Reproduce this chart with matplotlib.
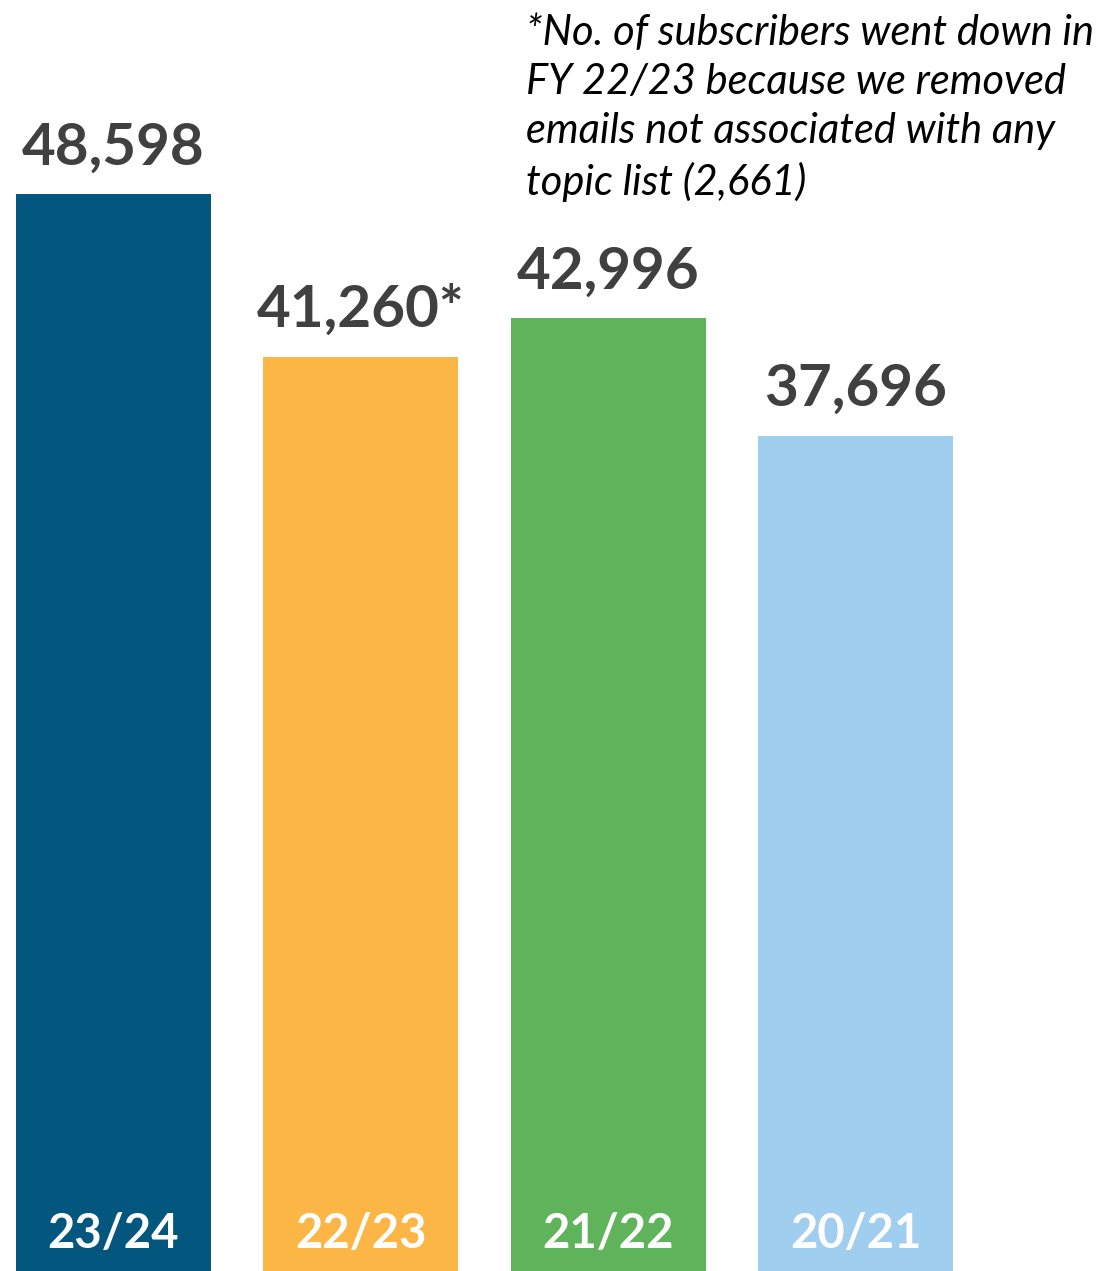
import matplotlib.pyplot as plt

# fiscal years and subscriber counts
years = ["23/24", "22/23", "21/22", "20/21"]
subscribers = [48598, 41260, 42996, 37696]
value_labels = ["48,598", "41,260*", "42,996", "37,696"]
colors = ["#03577F", "#FCB645", "#5FB35B", "#A0CEEE"]
note = ("*No. of subscribers went down in\nFY 22/23 because we removed\n"
        "emails not associated with any\ntopic list (2,661)")

plt.rcParams['font.family'] = ['Lato', 'DejaVu Sans']

fig = plt.figure(figsize=(11.06, 12.71), dpi=100)
ax = fig.add_axes([0, 0, 1, 1])

x = range(len(years))
ax.bar(x, subscribers, width=0.789, color=colors)

for i, (v, lab, yr) in enumerate(zip(subscribers, value_labels, years)):
    ax.annotate(lab, (i, v), xytext=(0, 14), textcoords="offset points",
                ha="center", va="bottom", fontsize=42, fontweight="bold",
                color="#404040")
    ax.annotate(yr, (i, 0), xytext=(0, 11), textcoords="offset points",
                ha="center", va="bottom", fontsize=34, fontweight="bold",
                color="white")

ax.text(0.476, 0.989, note, transform=ax.transAxes, ha="left", va="top",
        fontsize=30, style="italic", color="black", linespacing=1.36)

ax.set_xlim(-0.459, 4.013)
ax.set_ylim(0, 57350)
ax.axis("off")

fig.savefig("out.png", dpi=100)
